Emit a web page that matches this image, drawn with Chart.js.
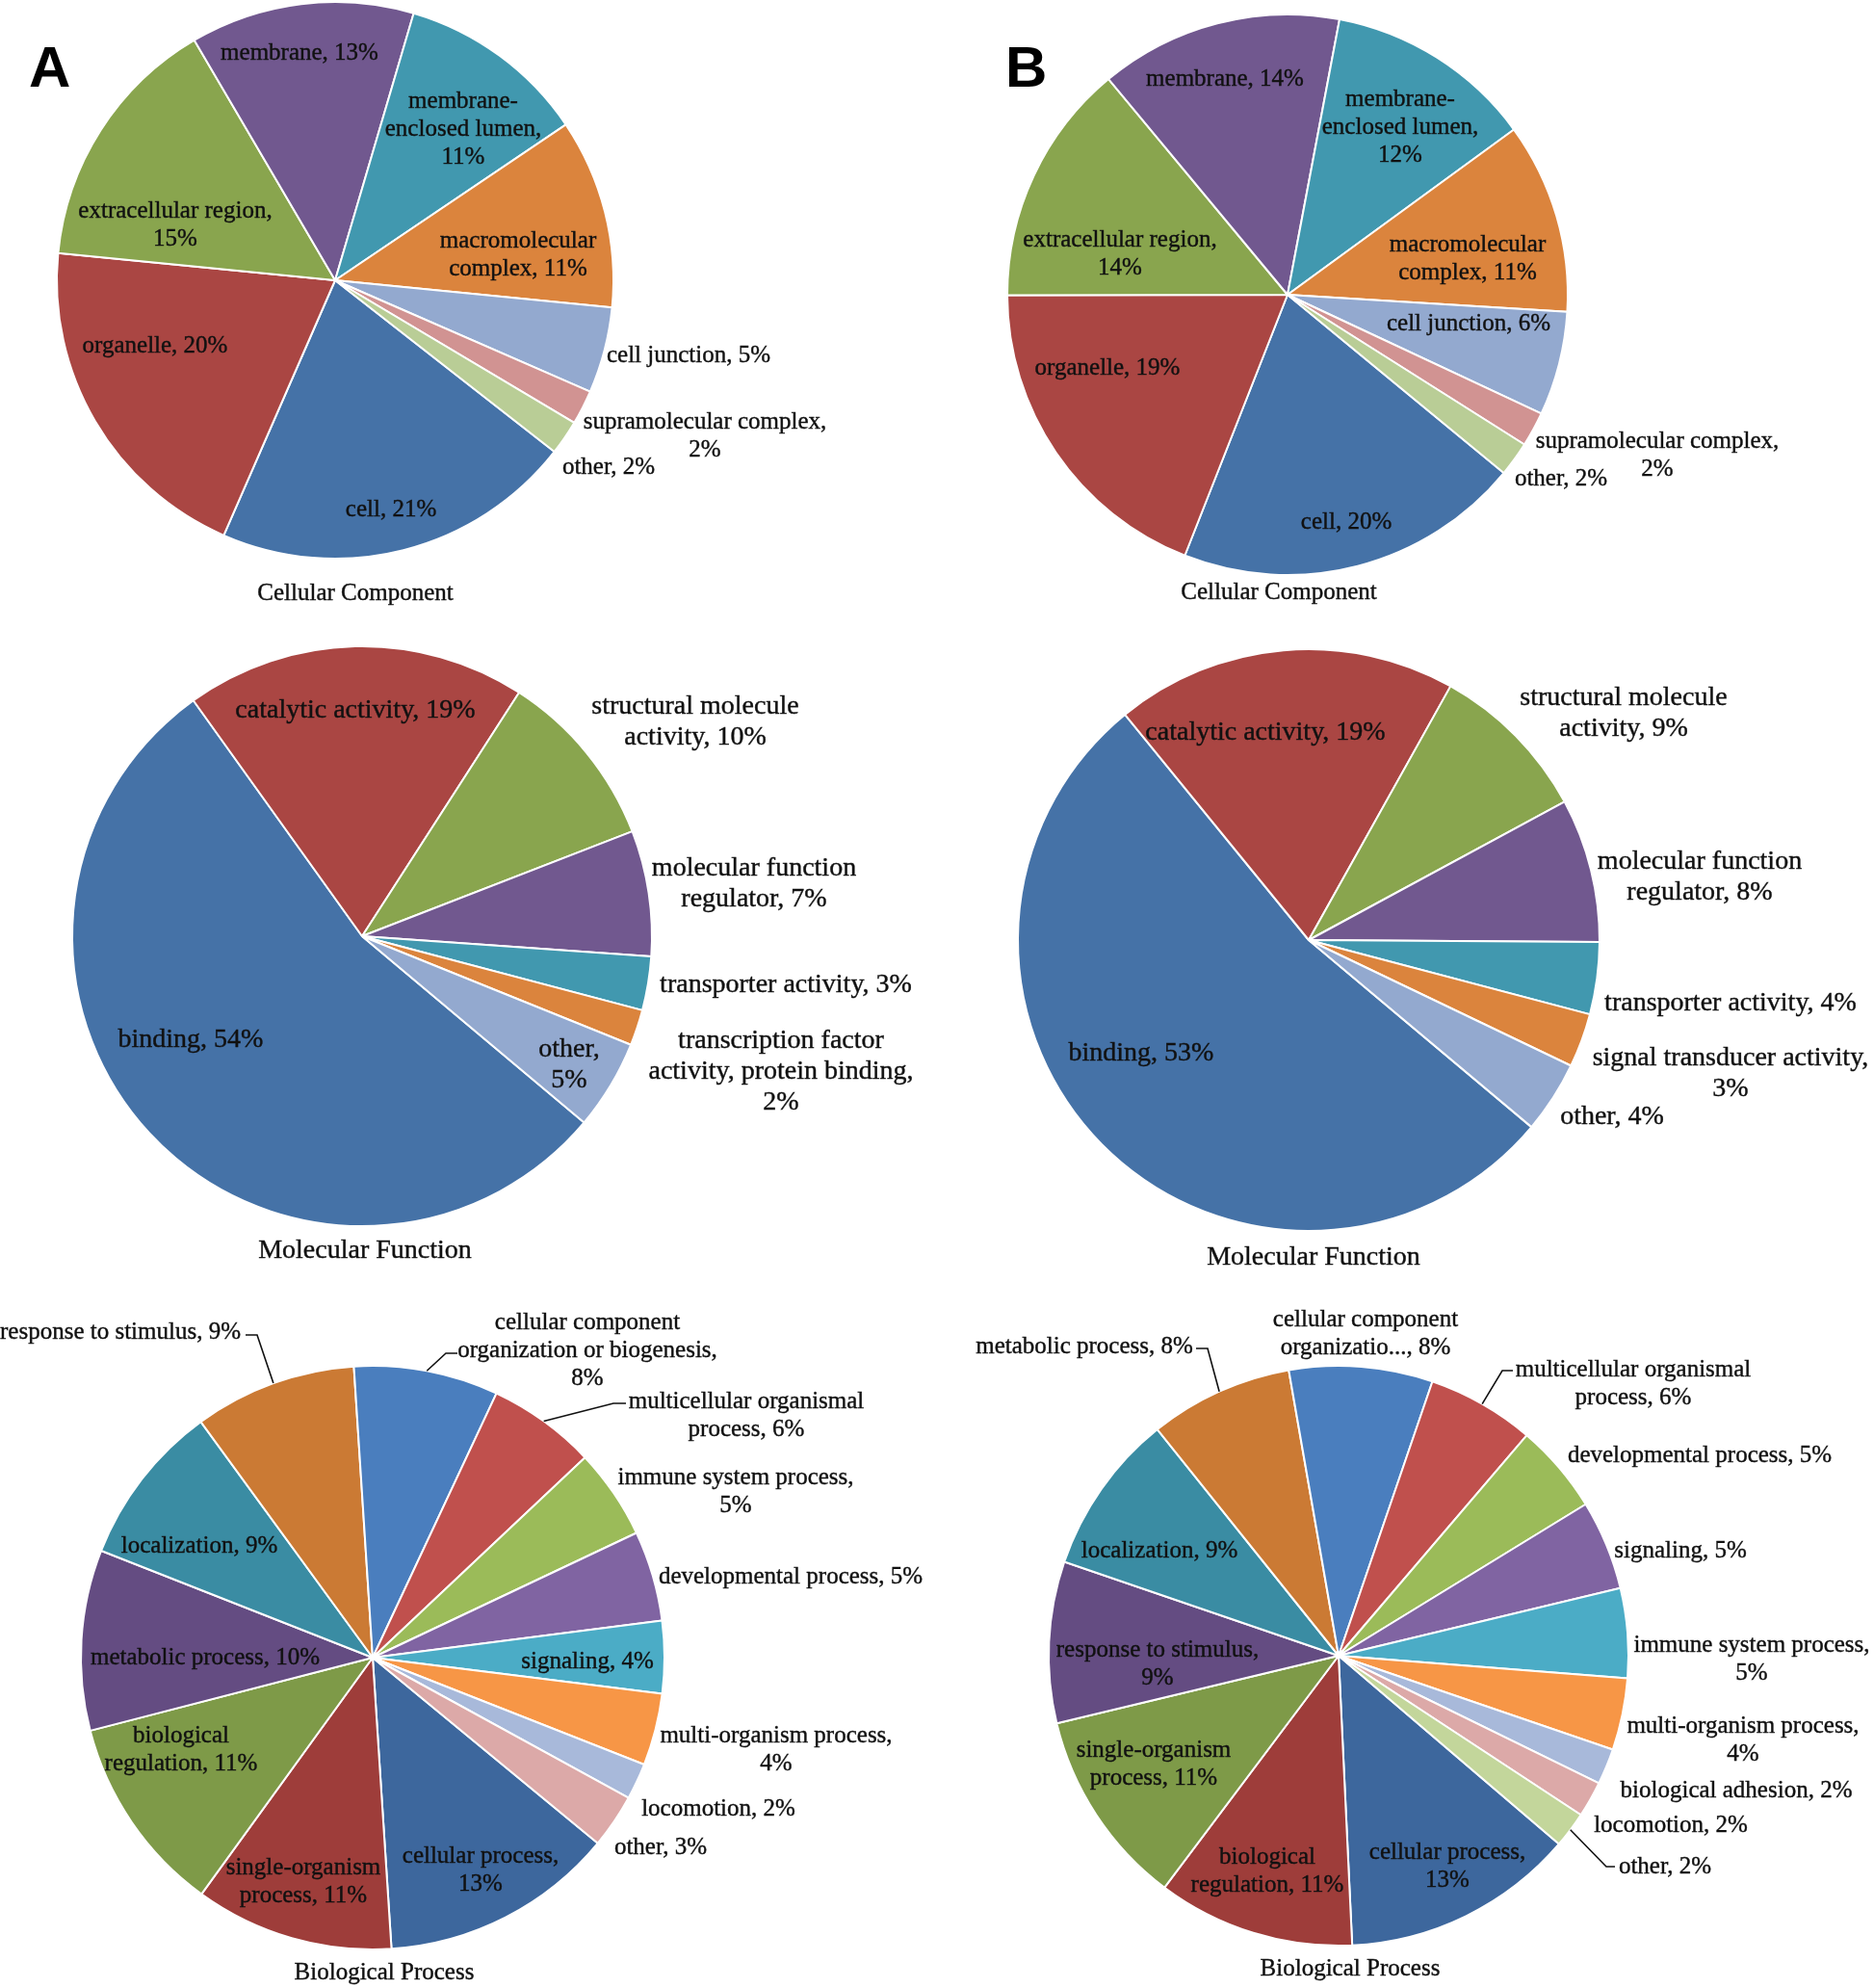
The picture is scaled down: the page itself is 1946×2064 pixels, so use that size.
<!DOCTYPE html>
<html>
<head>
<meta charset="utf-8">
<script src="https://cdn.jsdelivr.net/npm/chart.js@4.4.1/dist/chart.umd.min.js"></script>
<style>
  body { margin: 0; background: #fff; }
  #page { position: relative; width: 1946px; height: 2064px; background: #fff; overflow: hidden; }
  canvas { position: absolute; }
</style>
</head>
<body>
<div id="page">
  <canvas id="ccA" width="973" height="640" style="left:0;top:0"></canvas>
  <canvas id="ccB" width="973" height="640" style="left:973px;top:0"></canvas>
  <canvas id="mfA" width="973" height="700" style="left:0;top:640px"></canvas>
  <canvas id="mfB" width="973" height="700" style="left:973px;top:640px"></canvas>
  <canvas id="bpA" width="973" height="724" style="left:0;top:1340px"></canvas>
  <canvas id="bpB" width="973" height="724" style="left:973px;top:1340px"></canvas>
</div>
<script>
// ---- data (percent of annotated proteins) ----
const ccCats = ["cell", "organelle", "extracellular region", "membrane", "membrane-enclosed lumen",
  "macromolecular complex", "cell junction", "supramolecular complex", "other"];
const ccValsA = [21, 20, 15, 13, 11, 11, 5, 2, 2];
const ccValsB = [20, 19, 14, 14, 12, 11, 6, 2, 2];

const mfCatsA = ["binding", "catalytic activity", "structural molecule activity", "molecular function regulator",
  "transporter activity", "transcription factor activity, protein binding", "other"];
const mfValsA = [54, 19, 10, 7, 3, 2, 5];
const mfCatsB = ["binding", "catalytic activity", "structural molecule activity", "molecular function regulator",
  "transporter activity", "signal transducer activity", "other"];
const mfValsB = [53, 19, 9, 8, 4, 3, 4];

const bpCatsA = ["cellular process", "single-organism process", "biological regulation", "metabolic process",
  "localization", "response to stimulus", "cellular component organization or biogenesis",
  "multicellular organismal process", "immune system process", "developmental process", "signaling",
  "multi-organism process", "locomotion", "other"];
const bpValsA = [13, 11, 11, 10, 9, 9, 8, 6, 5, 5, 4, 4, 2, 3];
const bpCatsB = ["cellular process", "biological regulation", "single-organism process", "response to stimulus",
  "localization", "metabolic process", "cellular component organizatio...", "multicellular organismal process",
  "developmental process", "signaling", "immune system process", "multi-organism process",
  "biological adhesion", "locomotion", "other"];
const bpValsB = [13, 11, 11, 9, 9, 8, 8, 6, 5, 5, 5, 4, 2, 2, 2];

// ---- styling ----
const SERIF = '"Liberation Serif", "Times New Roman", serif';
const SANS = '"Liberation Sans", Arial, sans-serif';
const TEXT = "#111111";

const baseColors = ["#4572A7", "#AA4643", "#89A54E", "#71588F", "#4198AF", "#DB843D", "#93A9CF", "#D19392", "#B9CD96"];
const bpColors = ["#3D679D", "#9E3D3A", "#7E9A48", "#644C82", "#3A8CA3", "#CB7A34",
  "#4A7EBE", "#C0504D", "#9BBB59", "#8064A2", "#4BACC6", "#F79646",
  "#A8B9DA", "#DCA9A8", "#C3D69B"];

// label placement, relative to the pie centre (px), one entry per slice
const ccPlaceA = [
  { x: 58, y: 238 }, { x: -187, y: 68 }, { x: -166, y: -57, br: ["region,"] }, { x: -37, y: -236 },
  { x: 133, y: -157, br: ["membrane-", "lumen,"] }, { x: 190, y: -26, br: ["macromolecular"] },
  { x: 367, y: 78 }, { x: 384, y: 162, br: ["complex,"] }, { x: 284, y: 194 }
];
const ccPlaceB = [
  { x: 61, y: 236 }, { x: -187, y: 76 }, { x: -174, y: -42, br: ["region,"] }, { x: -65, y: -224 },
  { x: 117, y: -174, br: ["membrane-", "lumen,"] }, { x: 187, y: -37, br: ["macromolecular"] },
  { x: 188, y: 30 }, { x: 384, y: 167, br: ["complex,"] }, { x: 284, y: 191 }
];
const mfPlaceA = [
  { x: -178, y: 108 }, { x: -7, y: -234 }, { x: 346, y: -222, br: ["molecule"] },
  { x: 407, y: -54, br: ["function"] }, { x: 440, y: 51 },
  { x: 435, y: 141, br: ["factor", "binding,"] }, { x: 215, y: 134, br: ["other,"] }
];
const mfPlaceB = [
  { x: -174, y: 118 }, { x: -45, y: -215 }, { x: 327, y: -235, br: ["molecule"] },
  { x: 406, y: -65, br: ["function"] }, { x: 438, y: 66 },
  { x: 438, y: 139, br: ["activity,"] }, { x: 315, y: 184 }
];
const bpPlaceA = [
  { x: 112, y: 221, br: ["process,"] }, { x: -72, y: 233, br: ["single-organism"] },
  { x: -199, y: 96, br: ["biological"] }, { x: -174, y: 0 }, { x: -180, y: -116 },
  { x: -262, y: -338, leader: [[-120, -335], [-132, -335]] },
  { x: 223, y: -319, br: ["component", "biogenesis,"], leader: [[76, -316], [88, -316]] },
  { x: 388, y: -251, br: ["organismal"], leader: [[250, -264], [263, -264]] },
  { x: 377, y: -172, br: ["process,"] }, { x: 434, y: -84 }, { x: 223, y: 4 },
  { x: 419, y: 96, br: ["process,"] }, { x: 359, y: 157 }, { x: 299, y: 197 }
];
const bpPlaceB = [
  { x: 113, y: 219, br: ["process,"] }, { x: -74, y: 224, br: ["biological"] },
  { x: -192, y: 113, br: ["single-organism"] }, { x: -188, y: 9, br: ["stimulus,"] },
  { x: -186, y: -109 },
  { x: -264, y: -321, leader: [[-136, -319], [-148, -319]] },
  { x: 28, y: -334, br: ["component"] },
  { x: 306, y: -282, br: ["organismal"], leader: [[170, -296], [181, -296]] },
  { x: 375, y: -208 }, { x: 355, y: -109 }, { x: 429, y: 4, br: ["process,"] },
  { x: 420, y: 88, br: ["process,"] }, { x: 413, y: 140 }, { x: 345, y: 176 },
  { x: 339, y: 219, leader: [[278, 219], [287, 219]] }
];

function splitLines(text, breaks) {
  const lines = [];
  let rest = text;
  breaks.forEach((tok) => {
    const at = rest.indexOf(tok);
    if (at < 0) return;
    lines.push(rest.slice(0, at + tok.length).trim());
    rest = rest.slice(at + tok.length).trim();
  });
  lines.push(rest);
  return lines;
}

// padding so that the pie lands at (cx, cy) with radius r inside a W x H canvas
function piePadding(W, H, cx, cy, r) {
  const b = 1;
  return { left: cx - r - b, right: W - cx - r - b, top: cy - r - b, bottom: H - cy - r - b };
}

function labelPlugin(spec) {
  return {
    id: "pieLabels",
    afterDatasetsDraw(chart) {
      const ctx = chart.ctx;
      const arcs = chart.getDatasetMeta(0).data;
      const cats = chart.data.labels;
      const vals = chart.data.datasets[0].data;
      const cx = arcs[0].x;
      const cy = arcs[0].y;
      ctx.save();
      ctx.fillStyle = TEXT;
      ctx.strokeStyle = TEXT;
      ctx.font = `${spec.size}px ${SERIF}`;
      ctx.textAlign = "center";
      ctx.textBaseline = "middle";
      const write = (t, x, y) => {
        ctx.lineWidth = 0.4;
        ctx.fillText(t, x, y);
        ctx.strokeText(t, x, y);
      };
      spec.place.forEach((p, i) => {
        const lines = splitLines(`${cats[i]}, ${vals[i]}%`, p.br || []);
        const y0 = cy + p.y - ((lines.length - 1) * spec.lh) / 2;
        lines.forEach((t, k) => write(t, cx + p.x, y0 + k * spec.lh));
        if (p.leader) {
          const a = arcs[i];
          const mid = (a.startAngle + a.endAngle) / 2;
          ctx.beginPath();
          ctx.lineWidth = 1.6;
          ctx.moveTo(a.x + Math.cos(mid) * a.outerRadius, a.y + Math.sin(mid) * a.outerRadius);
          p.leader.forEach(([lx, ly]) => ctx.lineTo(cx + lx, cy + ly));
          ctx.stroke();
        }
      });
      write(spec.title, cx + spec.titlePos[0], cy + spec.titlePos[1]);
      if (spec.panel) {
        ctx.font = `bold 60px ${SANS}`;
        ctx.fillStyle = "#000";
        ctx.textAlign = "left";
        ctx.textBaseline = "alphabetic";
        ctx.fillText(spec.panel[0], spec.panel[1], spec.panel[2]);
      }
      ctx.restore();
    },
  };
}

function drawPie(id, cats, vals, colors, geo, spec) {
  const canvas = document.getElementById(id);
  return new Chart(canvas, {
    type: "pie",
    data: {
      labels: cats,
      datasets: [{
        data: vals,
        backgroundColor: colors.slice(0, vals.length),
        borderColor: "#ffffff",
        borderWidth: 2,
      }],
    },
    options: {
      responsive: false,
      animation: false,
      rotation: geo.rot,
      layout: { padding: piePadding(canvas.width, canvas.height, geo.cx, geo.cy, geo.r) },
      plugins: { legend: { display: false }, tooltip: { enabled: false }, title: { display: false } },
    },
    plugins: [labelPlugin(spec)],
  });
}

drawPie("ccA", ccCats, ccValsA, baseColors, { cx: 348, cy: 291, r: 289, rot: 128 },
  { place: ccPlaceA, size: 25, lh: 29, title: "Cellular Component", titlePos: [21, 325], panel: ["A", 30, 90] });
drawPie("ccB", ccCats, ccValsB, baseColors, { cx: 364, cy: 306, r: 291, rot: 129.5 },
  { place: ccPlaceB, size: 25, lh: 29, title: "Cellular Component", titlePos: [-9, 309], panel: ["B", 71, 90] });
drawPie("mfA", mfCatsA, mfValsA, baseColors, { cx: 376, cy: 332, r: 301, rot: 130 },
  { place: mfPlaceA, size: 28, lh: 32, title: "Molecular Function", titlePos: [3, 327] });
drawPie("mfB", mfCatsB, mfValsB, baseColors, { cx: 386, cy: 336, r: 302, rot: 130 },
  { place: mfPlaceB, size: 28, lh: 32, title: "Molecular Function", titlePos: [5, 330] });
drawPie("bpA", bpCatsA, bpValsA, bpColors, { cx: 387, cy: 381, r: 303, rot: 129.5 },
  { place: bpPlaceA, size: 25, lh: 29, title: "Biological Process", titlePos: [12, 327] });
drawPie("bpB", bpCatsB, bpValsB, bpColors, { cx: 417, cy: 379, r: 301, rot: 130.5 },
  { place: bpPlaceB, size: 25, lh: 29, title: "Biological Process", titlePos: [12, 325] });
</script>
</body>
</html>
